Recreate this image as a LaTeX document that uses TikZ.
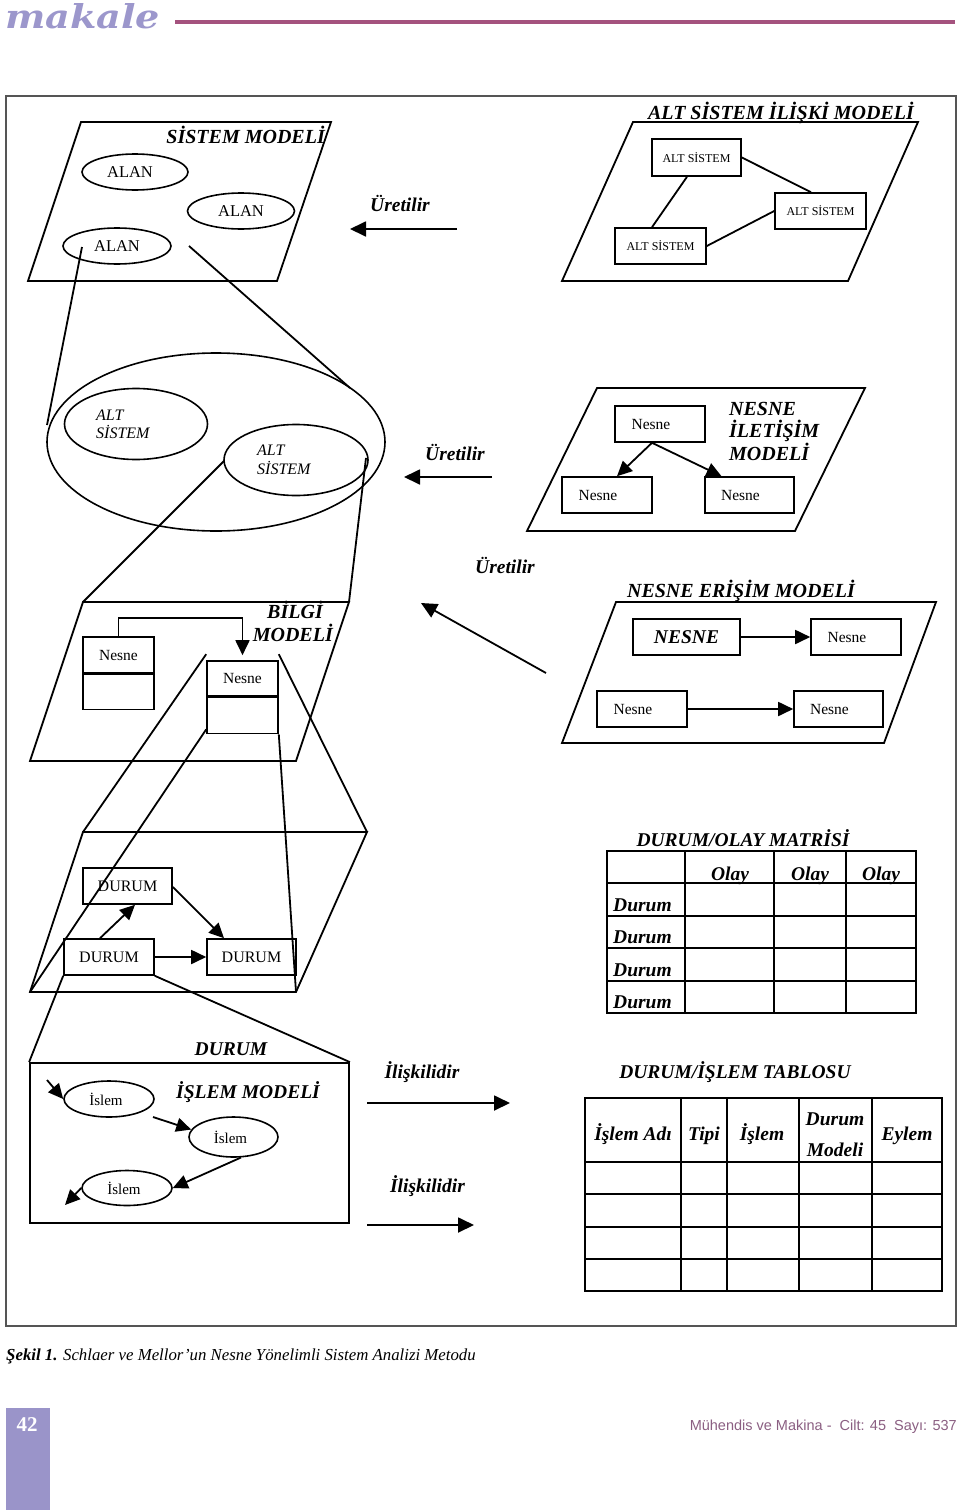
\documentclass[tikz,border=0pt]{standalone}
\usepackage{fontspec}
\setmainfont{Liberation Serif}
\newfontfamily\footsans{Liberation Sans}
\newfontfamily\headserif{DejaVu Serif}
\usetikzlibrary{arrows.meta,calc,shapes.geometric}
\definecolor{lav}{HTML}{9C97CC}
\definecolor{lavbox}{HTML}{9A94C9}
\definecolor{rasp}{HTML}{A4527E}
\definecolor{mauve}{HTML}{8B5F82}
\definecolor{framec}{HTML}{555555}
\newcommand{\fsz}[1]{\fontsize{#1}{#1}\selectfont}
\newcommand{\lsh}[1]{#1\hspace*{18pt}}
\begin{document}
\begin{tikzpicture}[x=1pt,y=-1pt,
  ln/.style={line width=1.8pt, line join=miter},
  box/.style={draw, line width=1.6pt, rectangle, inner sep=0pt, font=\fsz{15.5}},
  ell/.style={draw, line width=1.6pt, ellipse, inner sep=0pt},
  tipA/.style={-{Triangle[length=15pt,width=14pt]}},
  tipB/.style={-{Triangle[length=16pt,width=15pt]}},
  ttl/.style={inner sep=0pt, font=\fsz{20}\bfseries\itshape},
  urt/.style={inner sep=0pt, font=\fsz{19.5}\bfseries\itshape},
  tbt/.style={inner sep=0pt, font=\fsz{19.5}\bfseries\itshape},
  itx/.style={inner sep=0pt, font=\fsz{16}\itshape},
  grid/.style={line width=1.5pt}
]
\useasboundingbox (0,0) rectangle (960,1510);
\fill[white] (0,0) rectangle (960,1510);

% ---------------- header ----------------
\node[anchor=base west, inner sep=0pt, text=lav, font=\headserif\fsz{32}\bfseries\itshape] (mk) at (5,28) {\resizebox{155pt}{25pt}{makale}};
\coordinate (hl1) at (175,22);
\coordinate (hl2) at (955,22);
\draw[rasp, line width=3.5pt] (hl1) -- (hl2);

% ---------------- frame ----------------
\coordinate (fr1) at (6,96);
\coordinate (fr2) at (956,1326);
\draw[framec, line width=1.2pt] (fr1) rectangle (fr2);

% ---------------- SISTEM MODELI ----------------
\coordinate (p1a) at (81,122);
\coordinate (p1b) at (331,122);
\coordinate (p1c) at (277,281);
\coordinate (p1d) at (28,281);
\draw[ln] (p1a) -- (p1b) -- (p1c) -- (p1d) -- cycle;
\node[ttl, anchor=base east] (t1) at (325,143) {SİSTEM MODELİ};
\node[ell, minimum width=106pt, minimum height=36pt, font=\fsz{16.5}] (alan1) at (135,172) {ALAN\hspace*{10pt}};
\node[ell, minimum width=107pt, minimum height=36pt, font=\fsz{16.5}] (alan2) at (241,211) {ALAN};
\node[ell, minimum width=108pt, minimum height=36pt, font=\fsz{16.5}] (alan3) at (117,246) {ALAN};

% Uretilir 1
\node[urt, anchor=base] (u1) at (400,211) {Üretilir};
\coordinate (a1s) at (457,229);
\coordinate (a1e) at (350,229);
\draw[ln, tipB] (a1s) -- (a1e);

% ---------------- ALT SISTEM ILISKI MODELI ----------------
\coordinate (p6a) at (633,122);
\coordinate (p6b) at (918,122);
\coordinate (p6c) at (848,281);
\coordinate (p6d) at (562,281);
\draw[ln] (p6a) -- (p6b) -- (p6c) -- (p6d) -- cycle;
\node[ttl, anchor=base] (t6) at (781,119) {ALT SİSTEM İLİŞKİ MODELİ};
\node[box, minimum width=89pt, minimum height=37pt, font=\fsz{12}] (as1) at (696.5,157.5) {ALT SİSTEM};
\node[box, minimum width=91pt, minimum height=36pt, font=\fsz{12}] (as2) at (820.5,211) {ALT SİSTEM};
\node[box, minimum width=91pt, minimum height=36pt, font=\fsz{12}] (as3) at (660.5,246) {ALT SİSTEM};
\draw[ln] ($(as1.south)+(-9.5,0)$) -- ($(as3.north)+(-8.5,0)$);
\draw[ln] (as1.east) -- ($(as2.north)+(-9.5,0)$);
\draw[ln] (as3.east) -- (as2.west);

% ---------------- big ellipse ----------------
\node[ell, minimum width=338pt, minimum height=178pt] (big) at (216,442) {};
\node[ell, minimum width=143pt, minimum height=71pt] (alts1) at (136,424) {};
\node[ell, minimum width=144pt, minimum height=71pt] (alts2) at (296,460) {};
\node[itx, anchor=base west] (alts1a) at (96,420) {ALT};
\node[itx, anchor=base west] (alts1b) at (96,438) {SİSTEM};
\node[itx, anchor=base west] (alts2a) at (257,455) {ALT};
\node[itx, anchor=base west] (alts2b) at (257,474) {SİSTEM};
\coordinate (l1s) at ($(alan3.center)+(-35,1)$);
\coordinate (l1e) at (47,425);
\coordinate (l2s) at ($(alan3.center)+(72,0)$);
\coordinate (l2e) at (350,388);
\draw[ln] (l1s) -- (l1e);
\draw[ln] (l2s) -- (l2e);

% Uretilir 2
\node[urt, anchor=base] (u2) at (455,460) {Üretilir};
\coordinate (a2s) at (492,477);
\coordinate (a2e) at (404,477);
\draw[ln, tipB] (a2s) -- (a2e);

% ---------------- NESNE ILETISIM MODELI ----------------
\coordinate (p4a) at (597,388);
\coordinate (p4b) at (865,388);
\coordinate (p4c) at (795,531);
\coordinate (p4d) at (527,531);
\draw[ln] (p4a) -- (p4b) -- (p4c) -- (p4d) -- cycle;
\node[box, minimum width=90pt, minimum height=36pt] (nt) at (660,424) {\lsh{Nesne}};
\node[box, minimum width=90pt, minimum height=36pt] (nbl) at (607,495) {\lsh{Nesne}};
\node[box, minimum width=89pt, minimum height=36pt] (nbr) at (749.5,495) {\lsh{Nesne}};
\draw[ln, tipA] ($(nt.south)+(-8,0)$) -- ($(nbl.north)+(10,0)$);
\draw[ln, tipA] ($(nt.south)+(-8,0)$) -- ($(nbr.north)+(-28,0)$);
\node[ttl, anchor=base west] (t4a) at (729,415) {NESNE};
\node[ttl, anchor=base west] (t4b) at (729,437) {İLETİŞİM};
\node[ttl, anchor=base west] (t4c) at (729,460) {MODELİ};

% ---------------- BILGI MODELI ----------------
\coordinate (p2a) at (83,602);
\coordinate (p2b) at (349,602);
\coordinate (p2c) at (296,761);
\coordinate (p2d) at (30,761);
\draw[ln] (p2a) -- (p2b) -- (p2c) -- (p2d) -- cycle;
\draw[ln] ($(alts2.center)+(-72,1)$) -- (p2a);
\draw[ln] ($(alts2.center)+(70,-2)$) -- (p2b);
\node[ttl, anchor=base east] (t2a) at (323,618) {BİLGİ};
\node[ttl, anchor=base east] (t2b) at (333,641) {MODELİ};
\node[box, minimum width=71pt, minimum height=36pt] (c1a) at (118.5,655) {Nesne};
\node[box, minimum width=71pt, minimum height=35pt, anchor=north] (c1b) at (c1a.south) {};
\node[box, minimum width=71pt, minimum height=35pt] (c2a) at (242.5,678.5) {Nesne};
\node[box, minimum width=71pt, minimum height=36pt, anchor=north] (c2b) at (c2a.south) {};
\draw[ln, tipA, shorten >=5pt] (c1a.north) -- ++(0,-18) -| (c2a.north);

% Uretilir 3
\node[urt, anchor=base] (u3) at (505,573) {Üretilir};
\coordinate (a3s) at (546,673);
\coordinate (a3e) at (421,603);
\draw[ln, tipB] (a3s) -- (a3e);

% ---------------- NESNE ERISIM MODELI ----------------
\node[ttl, anchor=base] (t5) at (741,597) {NESNE ERİŞİM MODELİ};
\coordinate (p5a) at (616,602);
\coordinate (p5b) at (936,602);
\coordinate (p5c) at (884,743);
\coordinate (p5d) at (562,743);
\draw[ln] (p5a) -- (p5b) -- (p5c) -- (p5d) -- cycle;
\node[box, minimum width=107pt, minimum height=36pt, font=\fsz{19.5}\bfseries\itshape] (nb1) at (686.5,637) {NESNE};
\node[box, minimum width=90pt, minimum height=36pt] (nb2) at (856,637) {\lsh{Nesne}};
\node[box, minimum width=90pt, minimum height=36pt] (nb3) at (642,709) {\lsh{Nesne}};
\node[box, minimum width=89pt, minimum height=36pt] (nb4) at (838.5,709) {\lsh{Nesne}};
\draw[ln, tipA] (nb1.east) -- (nb2.west);
\draw[ln, tipA] (nb3.east) -- (nb4.west);

% ---------------- DURUM model ----------------
\coordinate (p3a) at (83,832);
\coordinate (p3b) at (367,832);
\coordinate (p3c) at (296,992);
\coordinate (p3d) at (30,992);
\draw[ln] (p3a) -- (p3b) -- (p3c) -- (p3d) -- cycle;
\draw[ln] ($(c2a.north west)+(0,-6)$) -- (p3a);
\draw[ln] ($(c2a.north east)+(0,-6)$) -- (p3b);
\draw[ln] ($(c2b.south west)+(0,-5)$) -- (p3d);
\draw[ln] (c2b.south east) -- (p3c);
\node[box, minimum width=89pt, minimum height=36pt, font=\fsz{16}] (d1) at (127.5,886) {DURUM};
\node[box, minimum width=90pt, minimum height=36pt, font=\fsz{16}] (d2) at (109,957) {DURUM};
\node[box, minimum width=89pt, minimum height=36pt, font=\fsz{16}] (d3) at (251.5,957) {DURUM};
\draw[ln, tipA] ($(d2.north)+(-9,0)$) -- ($(d1.south)+(7.5,0)$);
\draw[ln, tipA] ($(d1.east)+(0,1)$) -- ($(d3.north)+(-27.5,0)$);
\draw[ln, tipA] (d2.east) -- (d3.west);

% ---------------- DURUM / ISLEM MODELI ----------------
\node[draw, line width=1.8pt, minimum width=319pt, minimum height=160pt, inner sep=0pt] (dim) at (189.5,1143) {};
\draw[ln] (d2.south west) -- (dim.north west);
\draw[ln] (d2.south east) -- (dim.north east);
\node[ttl, font=\fsz{19.5}\bfseries\itshape, anchor=base] (t7a) at (231,1055) {DURUM};
\node[ttl, font=\fsz{19.5}\bfseries\itshape, anchor=base] (t7b) at (248,1098) {İŞLEM MODELİ};
\node[ell, minimum width=90pt, minimum height=36pt, font=\fsz{15}] (e1) at (109,1099) {İslem\hspace*{6pt}};
\node[ell, minimum width=89pt, minimum height=40pt, font=\fsz{15}] (e2) at (233.5,1137) {İslem\hspace*{6pt}};
\node[ell, minimum width=90pt, minimum height=35pt, font=\fsz{15}] (e3) at (127,1188) {İslem\hspace*{6pt}};
\coordinate (e0) at (47,1080);
\coordinate (e4) at (65,1205);
\draw[ln, tipA] (e0) -- (e1.west);
\draw[ln, tipA] ($(e1.center)+(44,18)$) -- (e2.170);
\draw[ln, tipA] (e2.-70) -- (e3.east);
\draw[ln, tipA] (e3.west) -- (e4);

% Iliskilidir
\node[urt, anchor=base] (i1) at (422,1078) {İlişkilidir};
\coordinate (a4s) at (367,1103);
\coordinate (a4e) at (510,1103);
\draw[ln, tipB] (a4s) -- (a4e);
\node[urt, anchor=base] (i2) at (427.5,1192) {İlişkilidir};
\coordinate (a5s) at (367,1225);
\coordinate (a5e) at (474,1225);
\draw[ln, tipB] (a5s) -- (a5e);

% ---------------- DURUM/OLAY MATRISI ----------------
\node[tbt, anchor=base] (mt) at (743,846) {DURUM/OLAY MATRİSİ};
\draw[grid] (607,851) rectangle (916,1013);
\foreach \xx in {685,774,846} \draw[grid] (\xx,851) -- (\xx,1013);
\foreach \yy in {883,916,948,981} \draw[grid] (607,\yy) -- (916,\yy);
\node[tbt, anchor=base] (ol1) at (730,880) {Olay};
\node[tbt, anchor=base] (ol2) at (810,880) {Olay};
\node[tbt, anchor=base] (ol3) at (881,880) {Olay};
\node[tbt, anchor=base west] (du1) at (613,911) {Durum};
\node[tbt, anchor=base west] (du2) at (613,943) {Durum};
\node[tbt, anchor=base west] (du3) at (613,976) {Durum};
\node[tbt, anchor=base west] (du4) at (613,1008) {Durum};

% ---------------- DURUM/ISLEM TABLOSU ----------------
\node[tbt, anchor=base] (tt) at (735,1078) {DURUM/İŞLEM TABLOSU};
\draw[grid] (585,1098) rectangle (942,1291);
\foreach \xx in {681,727,799,872} \draw[grid] (\xx,1098) -- (\xx,1291);
\foreach \yy in {1162,1194,1227,1259} \draw[grid] (585,\yy) -- (942,\yy);
\node[tbt, anchor=base] (h1) at (633,1140) {İşlem Adı};
\node[tbt, anchor=base] (h2) at (704,1140) {Tipi};
\node[tbt, anchor=base] (h3) at (762,1140) {İşlem};
\node[tbt, anchor=base] (h4a) at (835,1125) {Durum};
\node[tbt, anchor=base] (h4b) at (835,1156) {Modeli};
\node[tbt, anchor=base] (h5) at (907,1140) {Eylem};

% ---------------- caption ----------------
\node[anchor=base west, inner sep=0pt, font=\fsz{16.8}] (cap) at (6,1360) {\textbf{\textit{Şekil 1.}} \textit{Schlaer ve Mellor’un Nesne Yönelimli Sistem Analizi Metodu}};

% ---------------- footer ----------------
\fill[lavbox] (6,1408) rectangle (50,1510);
\node[anchor=base, inner sep=0pt, text=white, font=\fsz{21}\bfseries] (pg) at (27,1431) {42};
\node[anchor=base east, inner sep=0pt, text=mauve, font=\footsans\fsz{14.5}] (ft) at (957,1430) {Mühendis ve Makina -\ \ Cilt: 45\ \ Sayı: 537};
\end{tikzpicture}
\end{document}
